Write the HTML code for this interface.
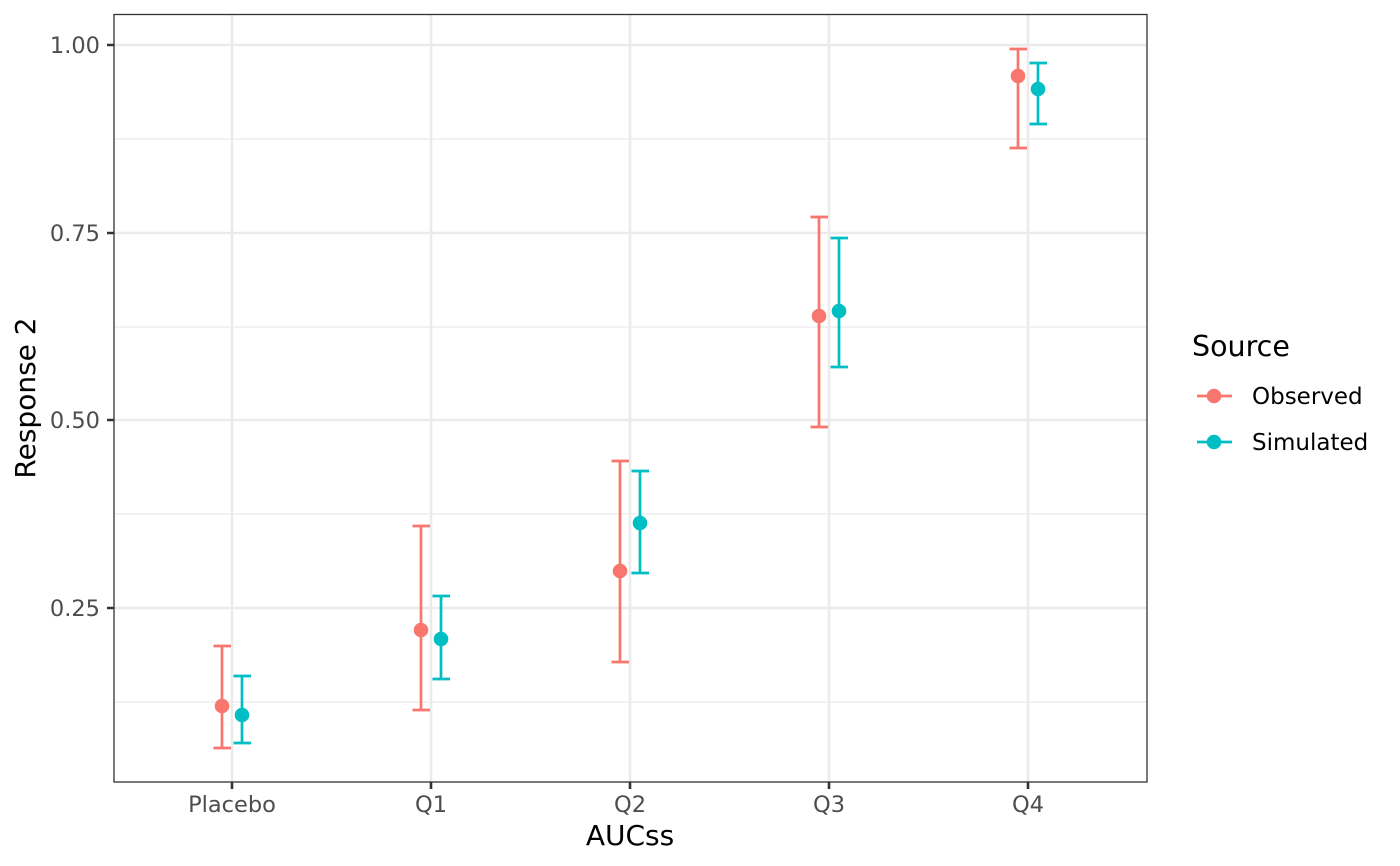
<!DOCTYPE html>
<html><head><meta charset="utf-8"><style>
html,body{margin:0;padding:0;background:#fff}
svg{display:block;font-family:"DejaVu Sans","Liberation Sans",sans-serif}
</style></head><body>
<svg width="1400" height="866" viewBox="0 0 1400 866" xmlns="http://www.w3.org/2000/svg">
<rect width="1400" height="866" fill="#fff"/>
<g stroke="#ebebeb" stroke-width="1.3">
<line x1="114" x2="1147" y1="139" y2="139"/><line x1="114" x2="1147" y1="327" y2="327"/>
<line x1="114" x2="1147" y1="514" y2="514"/><line x1="114" x2="1147" y1="702" y2="702"/>
</g>
<g stroke="#ebebeb" stroke-width="2.6">
<line x1="114" x2="1147" y1="45" y2="45"/><line x1="114" x2="1147" y1="233" y2="233"/>
<line x1="114" x2="1147" y1="420" y2="420"/><line x1="114" x2="1147" y1="608" y2="608"/>
<line x1="232" x2="232" y1="14" y2="782"/><line x1="431" x2="431" y1="14" y2="782"/>
<line x1="630" x2="630" y1="14" y2="782"/><line x1="829" x2="829" y1="14" y2="782"/>
<line x1="1028" x2="1028" y1="14" y2="782"/>
</g>
<g stroke-width="2.7" fill="none">
<g stroke="#F8766D">
<path d="M222 646V748M213.5 646H231M213.5 748H231"/>
<path d="M421 526V710M412.5 526H430M412.5 710H430"/>
<path d="M620 461V662M611.5 461H629M611.5 662H629"/>
<path d="M819 217V427M810.5 217H828M810.5 427H828"/>
<path d="M1018 49V148M1009.5 49H1027M1009.5 148H1027"/>
</g>
<g stroke="#00BFC4">
<path d="M242 676V743M233.5 676H251M233.5 743H251"/>
<path d="M441 596V679M432.5 596H450M432.5 679H450"/>
<path d="M640 471V573M631.5 471H649M631.5 573H649"/>
<path d="M839 238V367M830.5 238H848M830.5 367H848"/>
<path d="M1038 63V124M1029.5 63H1047M1029.5 124H1047"/>
</g>
</g>
<g fill="#F8766D">
<circle cx="222" cy="706" r="7.3"/><circle cx="421" cy="630" r="7.3"/><circle cx="620" cy="571" r="7.3"/><circle cx="819" cy="316" r="7.3"/><circle cx="1018" cy="76" r="7.3"/>
</g>
<g fill="#00BFC4">
<circle cx="242" cy="715" r="7.3"/><circle cx="441" cy="639" r="7.3"/><circle cx="640" cy="523" r="7.3"/><circle cx="839" cy="311" r="7.3"/><circle cx="1038" cy="89" r="7.3"/>
</g>
<rect x="114" y="14.5" width="1033" height="767.5" fill="none" stroke="#333" stroke-width="1.3"/>
<g stroke="#333" stroke-width="2.6">
<path d="M107 45H114M107 233H114M107 420H114M107 608H114"/>
<path d="M232 782V789M431 782V789M630 782V789M829 782V789M1028 782V789"/>
</g>
<g fill="#4d4d4d" font-size="22.5px" text-anchor="end">
<text x="100" y="53">1.00</text><text x="100" y="241">0.75</text><text x="100" y="428">0.50</text><text x="100" y="616">0.25</text>
</g>
<g fill="#4d4d4d" font-size="22.5px" text-anchor="middle">
<text x="232" y="812">Placebo</text><text x="431" y="812">Q1</text><text x="630" y="812">Q2</text><text x="829" y="812">Q3</text><text x="1028" y="812">Q4</text>
</g>
<text x="630" y="845" font-size="28px" text-anchor="middle" fill="#000">AUCss</text>
<text transform="translate(35,398) rotate(-90)" font-size="28px" text-anchor="middle" fill="#000">Response 2</text>
<text x="1192" y="356" font-size="28.5px" fill="#000">Source</text>
<g stroke-width="2.7"><line x1="1197" x2="1232" y1="396" y2="396" stroke="#F8766D"/><line x1="1197" x2="1232" y1="442" y2="442" stroke="#00BFC4"/></g>
<circle cx="1214" cy="396" r="7.3" fill="#F8766D"/><circle cx="1214" cy="442" r="7.3" fill="#00BFC4"/>
<text x="1252" y="404" font-size="23px" fill="#000">Observed</text>
<text x="1252" y="450" font-size="23px" fill="#000">Simulated</text>
</svg>
</body></html>
